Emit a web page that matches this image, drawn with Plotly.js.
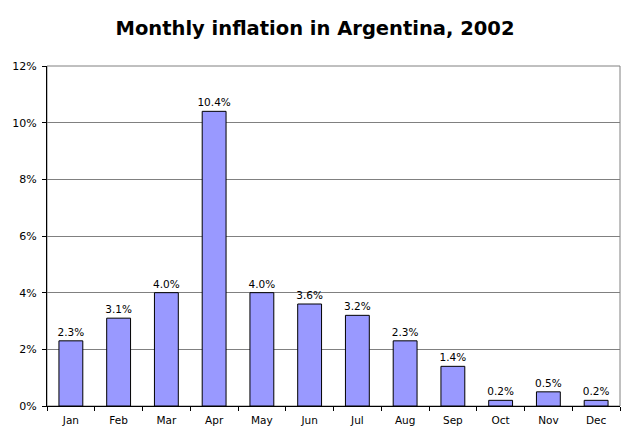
<!DOCTYPE html>
<html><head><meta charset="utf-8">
<script src="https://cdn.plot.ly/plotly-3.0.1.min.js"></script>
<style>html,body{margin:0;padding:0;background:#fff}</style>
</head><body>
<div id="chart" style="width:630px;height:436px"></div>
<script>
var months = ["Jan","Feb","Mar","Apr","May","Jun","Jul","Aug","Sep","Oct","Nov","Dec"];
var inflation = [2.3, 3.1, 4.0, 10.4, 4.0, 3.6, 3.2, 2.3, 1.4, 0.2, 0.5, 0.2];
var labels = inflation.map(function(v){return v.toFixed(1)+"%";});
var yTicks = [0,2,4,6,8,10,12];
var yTickText = yTicks.map(function(v){return v+"%";});

var fontFam = "DejaVu Sans, Verdana, sans-serif";
var trace = {
  type: "bar", x: months, y: inflation,
  text: labels, textposition: "outside", cliponaxis: false, constraintext: "none",
  textfont: {family: fontFam, size: 10.5, color: "#000"},
  outsidetextfont: {family: fontFam, size: 10.5, color: "#000"},
  marker: {color: "#9999FF", line: {color: "#000", width: 1}},
  hoverinfo: "none"
};
var layout = {
  width: 630, height: 436,
  margin: {l: 47, r: 10, t: 66, b: 30},
  paper_bgcolor: "#fff", plot_bgcolor: "#fff",
  uniformtext: {mode: false},
  title: {text: "Monthly inflation in Argentina, 2002", x: 0.5, xanchor: "center", y: 0.935, yanchor: "middle",
          font: {family: fontFam, size: 19.5, color: "#000", weight: "bold"}},
  bargap: 0.5,
  showlegend: false,
  xaxis: {type: "category", showgrid: false, showline: true, linecolor: "#000", linewidth: 1,
          ticks: "outside", tickson: "boundaries", ticklen: 4, tickcolor: "#000", ticklabelstandoff: 4,
          tickfont: {family: fontFam, size: 10.5, color: "#000"}, fixedrange: true},
  yaxis: {range: [0, 12], tickvals: yTicks, ticktext: yTickText, showgrid: true, gridcolor: "#808080", gridwidth: 1,
          showline: true, linecolor: "#000", linewidth: 1, ticks: "outside", ticklen: 4, tickcolor: "#000",
          ticklabelstandoff: 3,
          tickfont: {family: fontFam, size: 11, color: "#000"}, zeroline: false, fixedrange: true},
  shapes: [{type: "rect", xref: "paper", yref: "paper", x0: 0, x1: 1, y0: 0, y1: 1,
            line: {color: "#808080", width: 1}, layer: "below"}]
};
Plotly.newPlot("chart", [trace], layout, {displayModeBar: false, staticPlot: true});
</script>
</body></html>
